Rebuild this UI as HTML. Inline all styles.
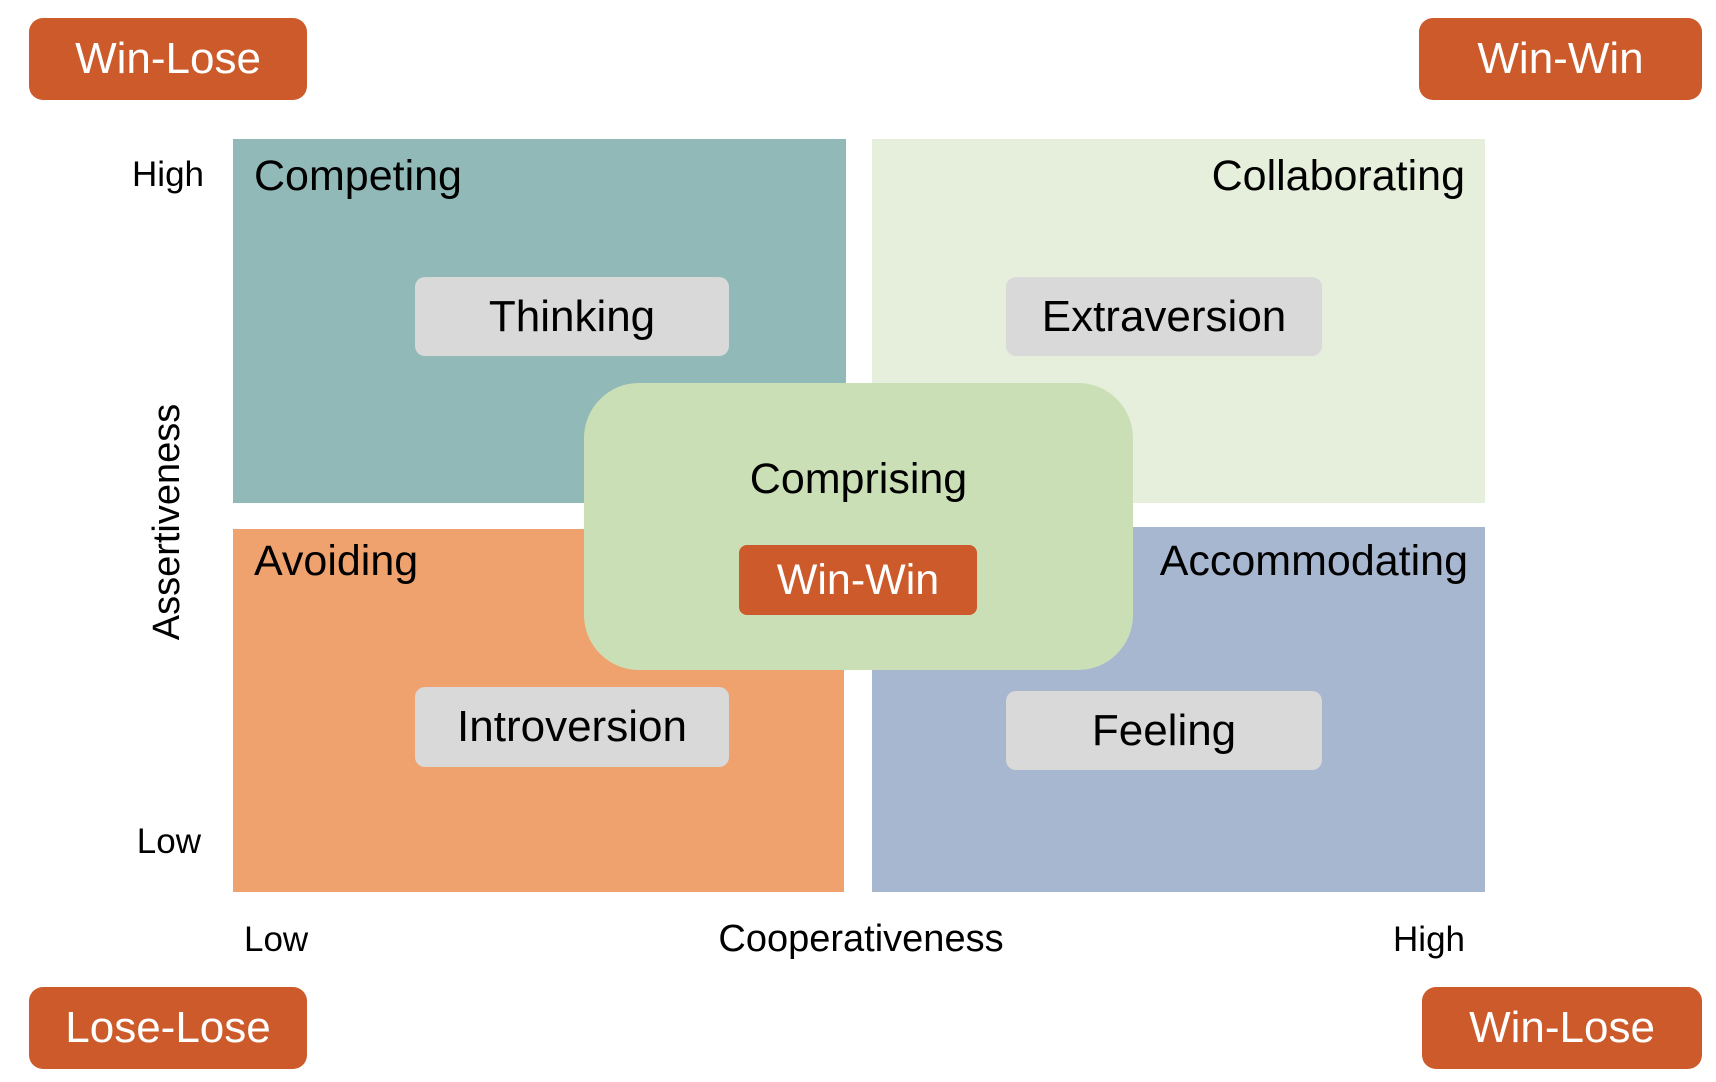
<!DOCTYPE html>
<html><head><style>
body{margin:0;width:1716px;height:1082px;background:#fff;position:relative;overflow:hidden;font-family:"Liberation Sans",Arial,sans-serif;color:#000}
.a{position:absolute;box-sizing:border-box}
.or{background:#cc5a2a;color:#fff;border-radius:14px;display:flex;align-items:center;justify-content:center;font-size:44px}
.tag{background:#d9d9d9;border-radius:10px;display:flex;align-items:center;justify-content:center;font-size:44px}
.t{position:absolute;white-space:nowrap;line-height:1}
</style></head><body>
<div class="a or" style="left:29px;top:18px;width:278px;height:82px">Win-Lose</div>
<div class="a or" style="left:1419px;top:18px;width:283px;height:82px">Win-Win</div>
<div class="a or" style="left:29px;top:987px;width:278px;height:82px">Lose-Lose</div>
<div class="a or" style="left:1422px;top:987px;width:280px;height:82px">Win-Lose</div>

<div class="a" style="left:233px;top:139px;width:613px;height:364px;background:#91b9b8"></div>
<div class="a" style="left:872px;top:139px;width:613px;height:364px;background:#e6efdc"></div>
<div class="a" style="left:233px;top:529px;width:611px;height:363px;background:#efa26e"></div>
<div class="a" style="left:872px;top:527px;width:613px;height:365px;background:#a8b7d0"></div>

<div class="t" style="left:254px;top:155px;font-size:43px">Competing</div>
<div class="t" style="right:251px;top:155px;font-size:43px">Collaborating</div>
<div class="t" style="left:254px;top:540px;font-size:43px">Avoiding</div>
<div class="t" style="right:248px;top:540px;font-size:43px">Accommodating</div>

<div class="a tag" style="left:415px;top:277px;width:314px;height:79px">Thinking</div>
<div class="a tag" style="left:1006px;top:277px;width:316px;height:79px">Extraversion</div>
<div class="a tag" style="left:415px;top:687px;width:314px;height:80px">Introversion</div>
<div class="a tag" style="left:1006px;top:691px;width:316px;height:79px">Feeling</div>

<div class="a" style="left:584px;top:383px;width:549px;height:287px;background:#cadfb6;border-radius:55px"></div>
<div class="t" style="left:584px;width:549px;text-align:center;top:458px;font-size:43px">Comprising</div>
<div class="a or" style="left:739px;top:545px;width:238px;height:70px;border-radius:8px;font-size:43px">Win-Win</div>

<div class="t" style="right:1512px;top:157px;font-size:35px">High</div>
<div class="t" style="right:1515px;top:824px;font-size:35px">Low</div>
<div class="t" style="left:244px;top:922px;font-size:35px">Low</div>
<div class="t" style="left:611px;width:500px;text-align:center;top:920px;font-size:38px">Cooperativeness</div>
<div class="t" style="right:251px;top:922px;font-size:35px">High</div>
<div class="t" style="left:167px;top:522px;font-size:38px;transform:translate(-50%,-50%) rotate(-90deg)">Assertiveness</div>
</body></html>
